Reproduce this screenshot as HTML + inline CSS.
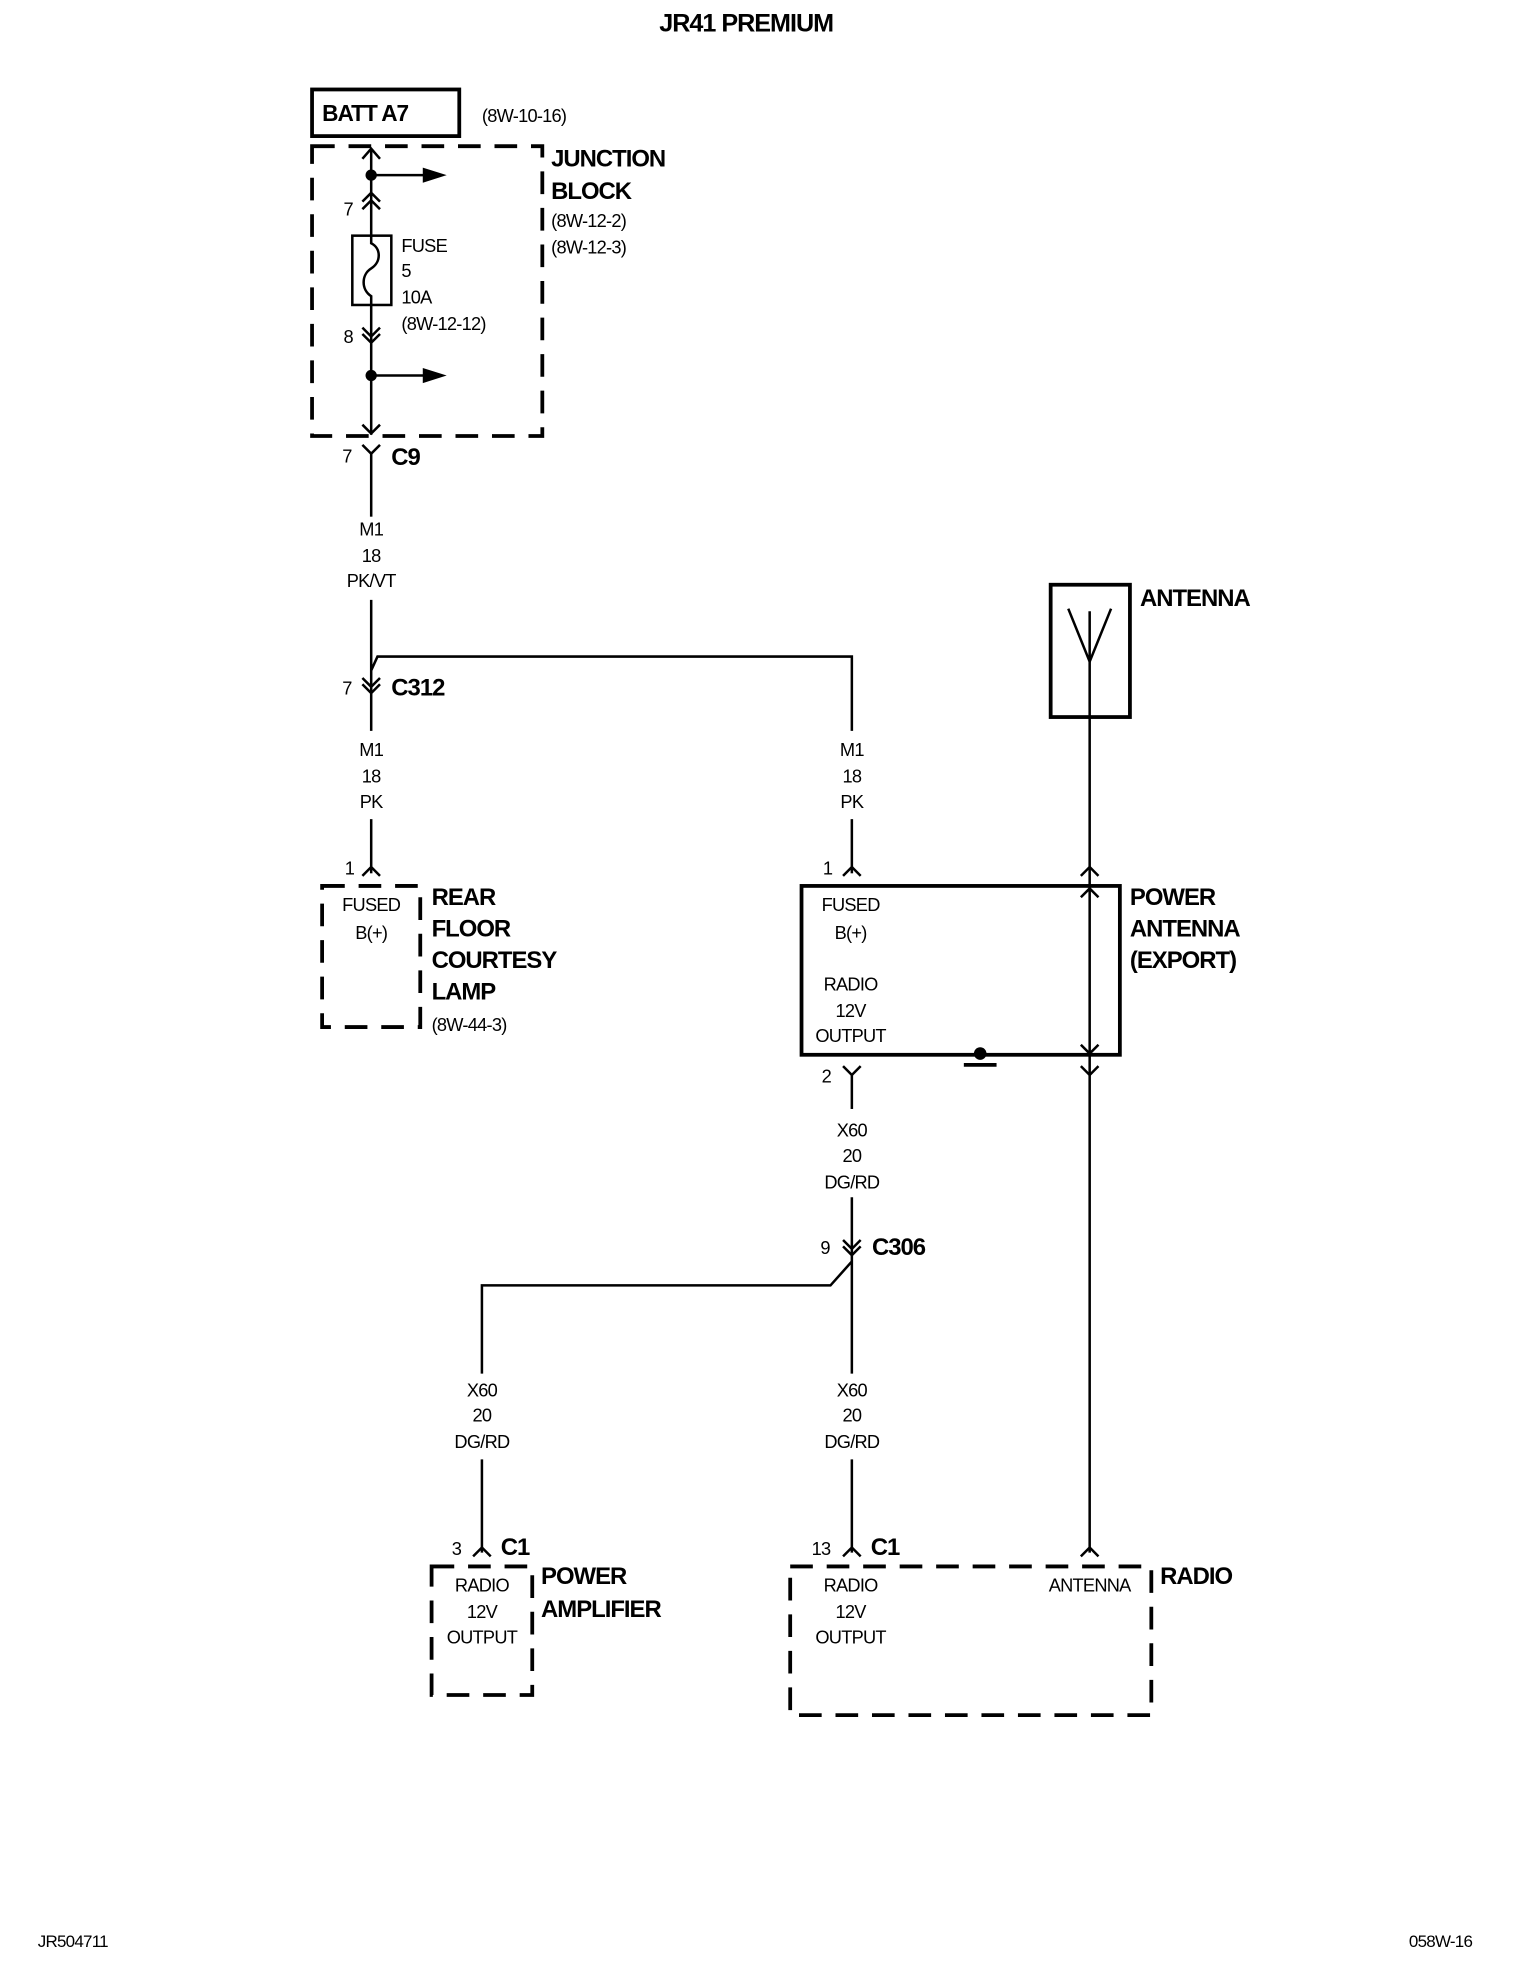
<!DOCTYPE html>
<html><head><meta charset="utf-8"><style>
html,body{margin:0;padding:0;background:#fff;}
svg{display:block}
text{font-family:"Liberation Sans",sans-serif;fill:#000}
.b{font-weight:bold;font-size:19px;letter-spacing:-0.8px}
.s{font-size:14.5px;letter-spacing:-0.6px}
.c{text-anchor:middle}
</style></head><body>
<svg width="1520" height="1976" viewBox="0 0 1208 1568" preserveAspectRatio="none" xmlns="http://www.w3.org/2000/svg">
<g stroke="#000" fill="none" stroke-width="2">
<!-- BATT box -->
<rect x="248" y="71" width="117" height="37" stroke-width="3"/>
<!-- Junction block -->
<rect x="248" y="116" width="183" height="230" stroke-width="3" stroke-dasharray="18,11"/>
<!-- main wire top -->
<line x1="295" y1="118" x2="295" y2="187"/>
<polyline points="288,126 295,118 302,126"/>
<line x1="295" y1="139" x2="340" y2="139"/>
<polyline points="288,160 295,153 302,160"/>
<polyline points="288,166 295,159 302,166"/>
<rect x="280" y="187" width="31" height="55"/>
<path d="M295,187 L295,193 C303,197 303,208 295,213 C287,218 287,230 295,235 L295,242"/>
<line x1="295" y1="242" x2="295" y2="345"/>
<polyline points="288,260 295,267 302,260"/>
<polyline points="288,265 295,272 302,265"/>
<line x1="295" y1="298" x2="340" y2="298"/>
<polyline points="288,337 295,344 302,337"/>
<!-- C9 -->
<polyline points="288,353 295,360 302,353"/>
<line x1="295" y1="360" x2="295" y2="410"/>
<line x1="295" y1="476" x2="295" y2="580"/>
<polyline points="288,538 295,545 302,538"/>
<polyline points="288,543 295,550 302,543"/>
<polyline points="295,532 300,521 677,521 677,580"/>
<line x1="295" y1="650" x2="295" y2="693"/>
<polyline points="288,695 295,688 302,695"/>
<line x1="677" y1="650" x2="677" y2="693"/>
<polyline points="670,695 677,688 684,695"/>
<!-- rear lamp -->
<rect x="256" y="703" width="78" height="112" stroke-width="3" stroke-dasharray="18,11"/>
<!-- power antenna -->
<rect x="637" y="703" width="253" height="134" stroke-width="3"/>
<circle cx="779" cy="836" r="5" fill="#000" stroke="none"/>
<line x1="766" y1="845" x2="792" y2="845" stroke-width="3"/>
<!-- antenna -->
<rect x="835" y="464" width="63" height="105" stroke-width="3"/>
<line x1="866" y1="485" x2="866" y2="1232"/>
<polyline points="849,483 866,525 883,483"/>
<polyline points="859,695 866,688 873,695"/>
<polyline points="859,712 866,705 873,712"/>
<polyline points="859,829 866,836 873,829"/>
<polyline points="859,846 866,853 873,846"/>
<polyline points="859,1235 866,1228 873,1235"/>
<!-- pin 2 -->
<polyline points="670,846 677,853 684,846"/>
<line x1="677" y1="853" x2="677" y2="880"/>
<line x1="677" y1="950" x2="677" y2="1090"/>
<polyline points="670,984 677,991 684,984"/>
<polyline points="670,989 677,996 684,989"/>
<polyline points="677,1001 660,1020 383,1020 383,1090"/>
<line x1="383" y1="1158" x2="383" y2="1232"/>
<polyline points="376,1235 383,1228 390,1235"/>
<line x1="677" y1="1158" x2="677" y2="1232"/>
<polyline points="670,1235 677,1228 684,1235"/>
<rect x="343" y="1243" width="80" height="102" stroke-width="3" stroke-dasharray="18,11"/>
<rect x="628" y="1243" width="287" height="118" stroke-width="3" stroke-dasharray="18,11"/>
</g>
<g fill="#000">
<polygon points="336,133 355,139 336,145"/>
<polygon points="336,292 355,298 336,304"/>
<circle cx="295" cy="139" r="4.5"/>
<circle cx="295" cy="298" r="4.5"/>
</g>
<text x="593" y="25" class="b c" style="font-size:20px">JR41 PREMIUM</text>
<text x="256" y="96" class="b" style="font-size:18px">BATT A7</text>
<text x="383" y="97" class="s">(8W-10-16)</text>
<text x="438" y="132" class="b">JUNCTION</text>
<text x="438" y="158" class="b">BLOCK</text>
<text x="438" y="180" class="s">(8W-12-2)</text>
<text x="438" y="201" class="s">(8W-12-3)</text>
<text x="273" y="171" class="s">7</text>
<text x="319" y="200" class="s">FUSE</text>
<text x="319" y="220" class="s">5</text>
<text x="319" y="241" class="s">10A</text>
<text x="319" y="262" class="s">(8W-12-12)</text>
<text x="273" y="272" class="s">8</text>
<text x="272" y="367" class="s">7</text>
<text x="311" y="369" class="b">C9</text>
<text x="295" y="425" class="s c">M1</text>
<text x="295" y="446" class="s c">18</text>
<text x="295" y="466" class="s c">PK/VT</text>
<text x="272" y="551" class="s">7</text>
<text x="311" y="552" class="b">C312</text>
<text x="295" y="600" class="s c">M1</text>
<text x="295" y="621" class="s c">18</text>
<text x="295" y="641" class="s c">PK</text>
<text x="677" y="600" class="s c">M1</text>
<text x="677" y="621" class="s c">18</text>
<text x="677" y="641" class="s c">PK</text>
<text x="274" y="694" class="s">1</text>
<text x="654" y="694" class="s">1</text>
<text x="295" y="723" class="s c">FUSED</text>
<text x="295" y="745" class="s c">B(+)</text>
<text x="343" y="718" class="b">REAR</text>
<text x="343" y="743" class="b">FLOOR</text>
<text x="343" y="768" class="b">COURTESY</text>
<text x="343" y="793" class="b">LAMP</text>
<text x="343" y="818" class="s">(8W-44-3)</text>
<text x="676" y="723" class="s c">FUSED</text>
<text x="676" y="745" class="s c">B(+)</text>
<text x="676" y="786" class="s c">RADIO</text>
<text x="676" y="807" class="s c">12V</text>
<text x="676" y="827" class="s c">OUTPUT</text>
<text x="906" y="481" class="b">ANTENNA</text>
<text x="898" y="718" class="b">POWER</text>
<text x="898" y="743" class="b">ANTENNA</text>
<text x="898" y="768" class="b">(EXPORT)</text>
<text x="653" y="859" class="s">2</text>
<text x="677" y="902" class="s c">X60</text>
<text x="677" y="922" class="s c">20</text>
<text x="677" y="943" class="s c">DG/RD</text>
<text x="652" y="995" class="s">9</text>
<text x="693" y="996" class="b">C306</text>
<text x="383" y="1108" class="s c">X60</text>
<text x="383" y="1128" class="s c">20</text>
<text x="383" y="1149" class="s c">DG/RD</text>
<text x="677" y="1108" class="s c">X60</text>
<text x="677" y="1128" class="s c">20</text>
<text x="677" y="1149" class="s c">DG/RD</text>
<text x="359" y="1234" class="s">3</text>
<text x="398" y="1234" class="b">C1</text>
<text x="645" y="1234" class="s">13</text>
<text x="692" y="1234" class="b">C1</text>
<text x="383" y="1263" class="s c">RADIO</text>
<text x="383" y="1284" class="s c">12V</text>
<text x="383" y="1304" class="s c">OUTPUT</text>
<text x="430" y="1257" class="b">POWER</text>
<text x="430" y="1283" class="b">AMPLIFIER</text>
<text x="676" y="1263" class="s c">RADIO</text>
<text x="676" y="1284" class="s c">12V</text>
<text x="676" y="1304" class="s c">OUTPUT</text>
<text x="866" y="1263" class="s c">ANTENNA</text>
<text x="922" y="1257" class="b">RADIO</text>
<text x="30" y="1545" class="s" style="font-size:13.5px">JR504711</text>
<text x="1170" y="1545" class="s" style="font-size:13.5px;text-anchor:end">058W-16</text>
</svg>
</body></html>
